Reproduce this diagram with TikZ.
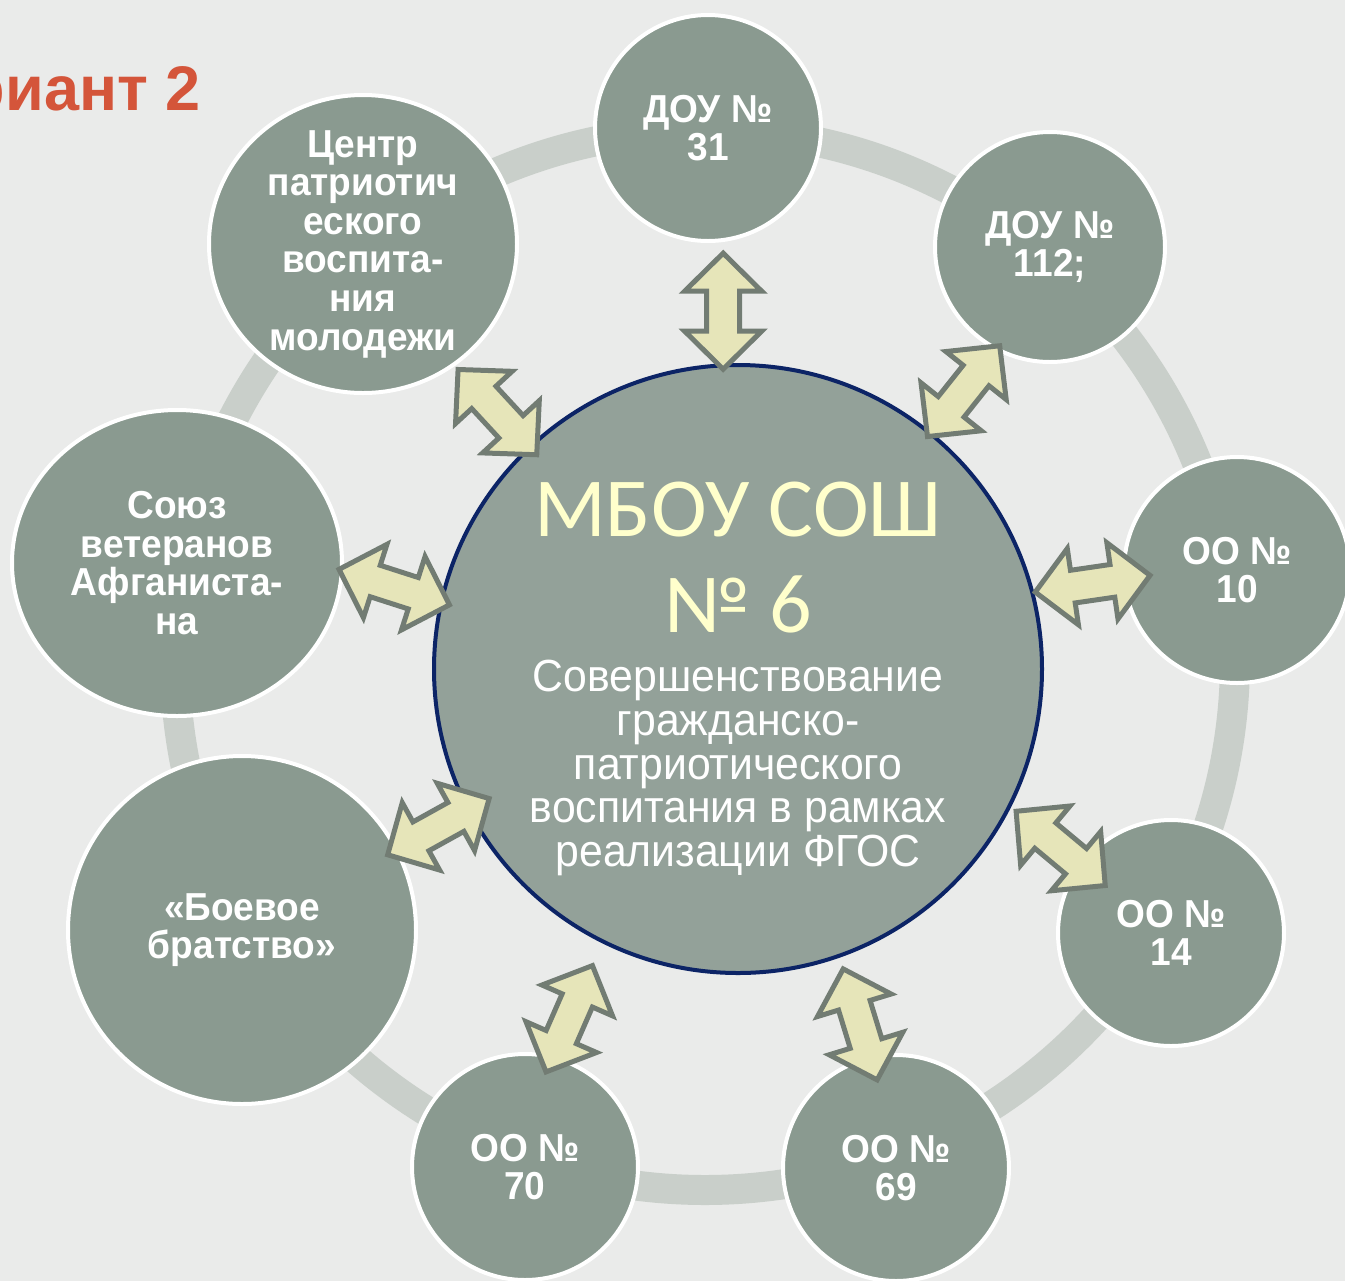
\documentclass[tikz,border=0pt]{standalone}
\usepackage{fontspec}
\setmainfont{Liberation Sans}
\newfontfamily\narrowfont{Liberation Sans}[FakeStretch=0.95]
\newfontfamily\calibfont{Carlito}
\usetikzlibrary{calc,shapes.geometric}
\definecolor{bgc}{HTML}{EAEBEA}
\definecolor{ringc}{HTML}{C9CFCA}
\definecolor{outc}{HTML}{8A9A90}
\definecolor{cenc}{HTML}{93A199}
\definecolor{navy}{HTML}{0C2466}
\definecolor{arrf}{HTML}{E6E5B9}
\definecolor{arrd}{HTML}{727C73}
\definecolor{titc}{HTML}{D4553A}
\definecolor{yel}{HTML}{FFFFCC}
\tikzset{
  bubble/.style={circle, fill=outc, draw=white, line width=2pt, inner sep=0pt},
  ebubble/.style={ellipse, fill=outc, draw=white, line width=2pt, inner sep=0pt},
  lbl/.style={text=white, font=\narrowfont\bfseries\fontsize{19.5}{19.3}\selectfont, align=center, inner sep=0pt},
  subline/.style={text=white, font=\narrowfont\fontsize{22.5}{22.5}\selectfont, anchor=base, inner sep=0pt},
  bigline/.style={text=yel, font=\calibfont\fontsize{42}{42}\selectfont, anchor=base, inner sep=0pt},
  arrowbody/.style={fill=arrf, draw=arrd, line width=2.5pt},
  dblarr/.pic={\path[arrowbody] (58,0) -- (20,38.5) -- (20,16.5) -- (-20,16.5) -- (-20,38.5) -- (-58,0) -- (-20,-38.5) -- (-20,-16.5) -- (20,-16.5) -- (20,-38.5) -- cycle;}
}
\begin{document}
\begin{tikzpicture}[x=0.5pt,y=-0.5pt]
\useasboundingbox (0,0) rectangle (1345,1281);
\clip (0,0) rectangle (1345,1281);
\fill[bgc] (0,0) rectangle (1345,1281);
% ring
\node[circle, draw=ringc, line width=15pt, minimum size=530pt, inner sep=0pt] (ring) at (705,660) {};
% title (cut at the left edge, as in the reference)
\node[anchor=base east, inner sep=0pt, text=titc, font=\bfseries\fontsize{31.5}{32}\selectfont] (title) at (201,110) {Вариант 2};
% outer bubbles
\node[bubble, minimum size=113pt] (o1) at (708,128) {};
\node[bubble, minimum size=115pt] (o2) at (1050,247) {};
\node[bubble, minimum size=113pt] (o3) at (1237,570) {};
\node[bubble, minimum size=113pt] (o4) at (1171,933) {};
\node[bubble, minimum size=113pt] (o5) at (896,1168) {};
\node[bubble, minimum size=113pt] (o6) at (525,1167) {};
\node[bubble, minimum size=174pt] (o7) at (242,930) {};
\node[ebubble, minimum width=165pt, minimum height=153pt] (o8) at (177,563) {};
\node[ebubble, minimum width=154pt, minimum height=149pt] (o9) at (363,244) {};
% center
\node[circle, fill=cenc, draw=navy, line width=2pt, minimum size=304pt, inner sep=0pt] (c) at (738,669) {};
% arrows
\pic[rotate=90]    at ($(c)!0.661!-0.8:(o1)$) {dblarr};
\pic[rotate=51.5]  at ($(c)!0.682!-2.6:(o2)$) {dblarr};
\pic[rotate=8.3]   at ($(c)!0.717!2.3:(o3)$) {dblarr};
\pic[rotate=-39.8] at ($(c)!0.728!2.3:(o4)$) {dblarr};
\pic[rotate=-73]   at ($(c)!0.718!1.4:(o5)$) {dblarr};
\pic[rotate=66.4]  at ($(c)!0.717!-2.6:(o6)$) {dblarr};
\pic[rotate=29]    at ($(c)!0.604!0:(o7)$) {dblarr};
\pic[rotate=-17.8] at ($(c)!0.619!-2.7:(o8)$) {dblarr};
\pic[rotate=-47.3] at ($(c)!0.621!1.7:(o9)$) {dblarr};
% labels
\node[lbl] (t1) at (o1) {ДОУ №\\31};
\node[lbl] (t2) at (o2) {ДОУ №\\112;};
\node[lbl] (t3) at (o3) {ОО №\\10};
\node[lbl] (t4) at (o4) {ОО №\\14};
\node[lbl] (t5) at (o5) {ОО №\\69};
\node[lbl] (t6) at (o6) {ОО №\\70};
\node[lbl] (t7) at (o7) {«Боевое\\братство»};
\node[lbl] (t8) at (o8) {Союз\\ветеранов\\Афганиста-\\на};
\node[lbl] (t9) at (o9) {Центр\\патриотич\\еского\\воспита-\\ния\\молодежи};
% center text
\node[bigline] (m1) at (738,536) {МБОУ СОШ};
\node[bigline] (m2) at (738,632) {№ 6};
\node[subline] (s1) at (738,691) {Совершенствование};
\node[subline] (s2) at (738,735) {гражданско-};
\node[subline] (s3) at (738,779) {патриотического};
\node[subline] (s4) at (738,822) {воспитания в рамках};
\node[subline] (s5) at (738,866) {реализации ФГОС};
\end{tikzpicture}
\end{document}
